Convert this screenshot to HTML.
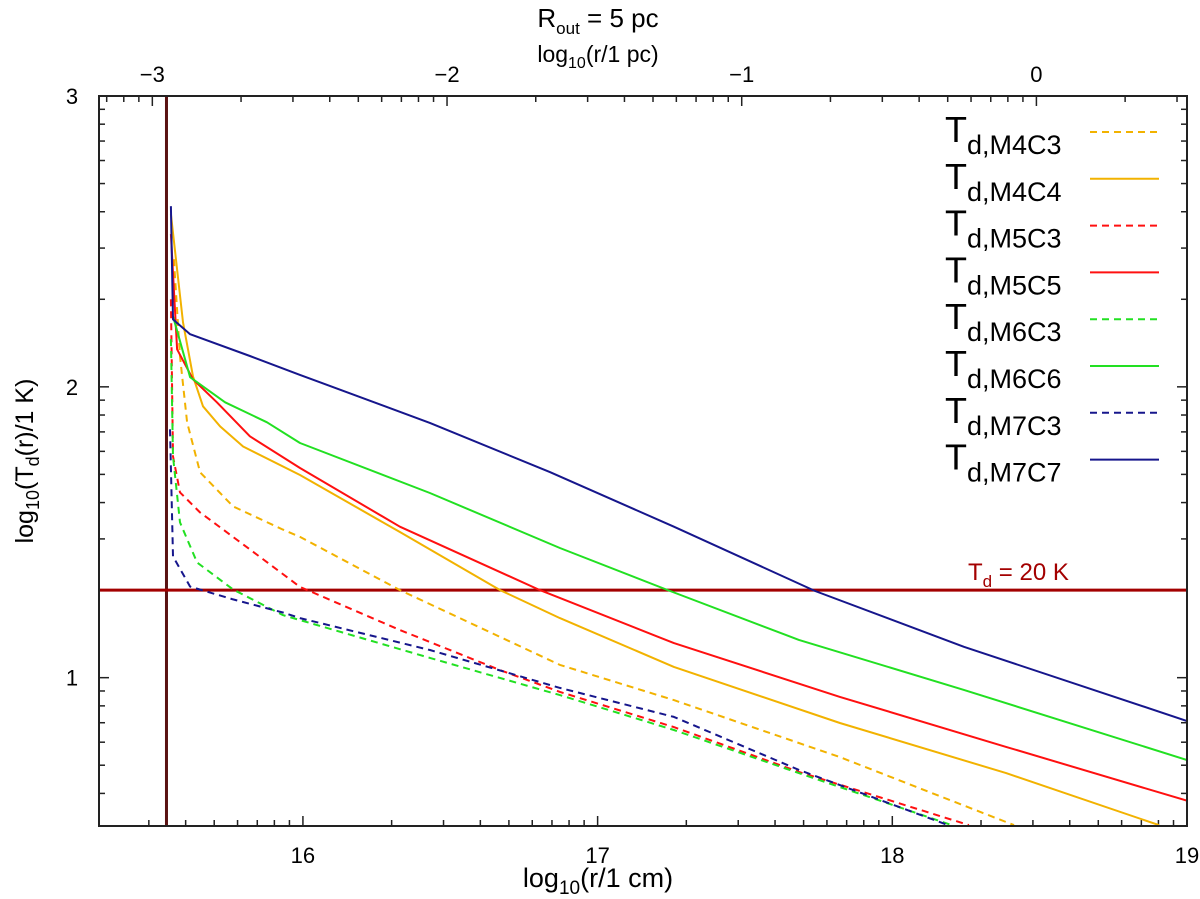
<!DOCTYPE html>
<html><head><meta charset="utf-8"><style>
body{margin:0;background:#fff;width:1200px;height:894px;overflow:hidden}
svg text{font-family:"Liberation Sans",sans-serif;fill:#000}
</style></head><body>
<svg id="chart" width="1200" height="894"></svg>
<script>
const seriesNames=["M4C3","M4C4","M5C3","M5C5","M6C3","M6C6","M7C3","M7C7"];
const seriesColors=["#f2b200","#f2b200","#ff1010","#ff1010","#22e022","#22e022","#16168c","#16168c"];
const seriesDashed=[true,false,true,false,true,false,true,false];
const xM4C3=[15.562,15.583,15.607,15.651,15.763,15.932,15.99,16.329,16.872,17.259,17.822,18.413];
const yM4C3=[2.439,2.105,1.878,1.706,1.589,1.509,1.484,1.301,1.044,0.923,0.727,0.493];
const xM4C4=[15.552,15.593,15.627,15.661,15.719,15.797,15.99,16.329,16.669,16.872,17.259,17.822,18.386,18.905];
const yM4C4=[2.594,2.222,2.036,1.933,1.864,1.795,1.697,1.501,1.301,1.205,1.037,0.844,0.672,0.493];
const xM5C3=[15.552,15.559,15.583,15.651,15.820,15.99,16.329,16.669,16.872,17.259,17.683,18.26];
const yM5C3=[2.301,1.761,1.637,1.568,1.441,1.312,1.164,1.026,0.951,0.830,0.676,0.493];
const xM5C5=[15.552,15.573,15.627,15.708,15.820,15.99,16.329,16.804,17.259,17.822,18.386,19.0];
const yM5C5=[2.525,2.129,2.026,1.947,1.830,1.721,1.519,1.301,1.119,0.934,0.762,0.577];
const xM6C3=[15.552,15.559,15.583,15.641,15.763,15.932,15.99,16.431,16.872,17.259,17.683,18.202];
const yM6C3=[2.164,1.761,1.534,1.396,1.303,1.215,1.198,1.068,0.940,0.820,0.672,0.493];
const xM6C6=[15.559,15.617,15.736,15.878,15.99,16.431,16.872,17.246,17.683,18.243,19.0];
const yM6C6=[2.243,2.033,1.947,1.878,1.807,1.635,1.446,1.298,1.130,0.958,0.717];
const xM7C3=[15.549,15.559,15.617,15.763,15.932,15.99,16.431,16.872,17.259,17.683,18.189];
const yM7C3=[1.854,1.417,1.313,1.269,1.224,1.205,1.095,0.965,0.865,0.683,0.493];
const xM7C7=[15.552,15.559,15.617,15.820,15.99,16.431,16.838,17.259,17.738,18.243,19.0];
const yM7C7=[2.621,2.232,2.181,2.106,2.041,1.876,1.707,1.519,1.298,1.106,0.851];
const seriesX=[xM4C3,xM4C4,xM5C3,xM5C5,xM6C3,xM6C6,xM7C3,xM7C7];
const seriesY=[yM4C3,yM4C4,yM5C3,yM5C5,yM6C3,yM6C6,yM7C3,yM7C7];
const xTicks=[16,17,18,19];
const yTicks=[1,2,3];
const topTicks=[-3,-2,-1,0];
const innerRadius=15.537;
const tempLine=Math.log10(20);
const pcOffset=18.489;

const L=99,R=1187,T=96,B=826,X0=15.308,X1=19.0,Y0=0.49,Y1=3.0;
const sx=v=>L+(v-X0)/(X1-X0)*(R-L);
const sy=v=>B-(v-Y0)/(Y1-Y0)*(B-T);
const svg=document.getElementById('chart');
const NS='http://www.w3.org/2000/svg';
function mk(tag,attrs,parent){const e=document.createElementNS(NS,tag);for(const k in attrs)e.setAttribute(k,attrs[k]);(parent||svg).appendChild(e);return e;}
function txt(x,y,s,size,anchor,parent){const t=mk('text',{x:x,y:y,'font-size':size,'text-anchor':anchor||'middle'},parent);t.innerHTML=s;return t;}

const defs=mk('defs',{});const cp=mk('clipPath',{id:'pc'},defs);mk('rect',{x:L,y:T,width:R-L,height:B-T},cp);

const tg=mk('g',{stroke:'#222','stroke-width':1.5});

for(let d=15;d<=19;d++){for(let k=1;k<=9;k++){const v=d+Math.log10(k);if(v<X0-1e-6||v>X1+1e-6)continue;const x=sx(v);const len=k==1?10:6;
 mk('line',{x1:x,y1:B,x2:x,y2:B-len},tg);}}
for(let d=-4;d<=1;d++){for(let k=1;k<=9;k++){const v=d+Math.log10(k)+pcOffset;if(v<X0||v>X1)continue;const x=sx(v);const len=k==1?10:6;
 mk('line',{x1:x,y1:T,x2:x,y2:T+len},tg);}}
for(let d=0;d<=3;d++){for(let k=1;k<=9;k++){const v=d+Math.log10(k);if(v<Y0-1e-6||v>Y1+1e-6)continue;const y=sy(v);const len=k==1?10:6;
 mk('line',{x1:L,y1:y,x2:L+len,y2:y},tg);mk('line',{x1:R,y1:y,x2:R-len,y2:y},tg);}}

const vl=mk('line',{x1:sx(innerRadius),y1:T,x2:sx(innerRadius),y2:B,stroke:'#5a1212','stroke-width':3});

const hl=mk('line',{x1:L,y1:sy(tempLine),x2:R,y2:sy(tempLine),stroke:'#a30000','stroke-width':3});


for(let i=0;i<seriesNames.length;i++){
 const d=seriesX[i].map((x,j)=>(j?'L':'M')+sx(x).toFixed(1)+','+sy(seriesY[i][j]).toFixed(1)).join('');
 const p=mk('path',{d:d,fill:'none',stroke:seriesColors[i],'stroke-width':2,'stroke-linejoin':'round','clip-path':'url(#pc)','stroke-dasharray':seriesDashed[i]?'7,5':'none'});
 
 
}

const fr=mk('rect',{x:L,y:T,width:R-L,height:B-T,fill:'none',stroke:'#222','stroke-width':2});


xTicks.forEach(v=>{const t=txt(sx(v),863,String(v),22);});
topTicks.forEach(v=>{const t=txt(sx(v+pcOffset),82,v<0?'\u2212'+(-v):String(v),22);});
yTicks.forEach(v=>{const t=txt(72,sy(v)+8,String(v),22);});

let t;
t=txt(598,27,'R<tspan font-size="17" dy="7">out</tspan><tspan dy="-7"> = 5 pc</tspan>',26);

t=txt(598,62,'log<tspan font-size="16" dy="6">10</tspan><tspan dy="-6">(r/1 pc)</tspan>',23);

t=txt(598,887,'log<tspan font-size="19" dy="7">10</tspan><tspan dy="-7">(r/1 cm)</tspan>',27);

t=txt(0,0,'log<tspan font-size="18" dy="6">10</tspan><tspan dy="-6">(T</tspan><tspan font-size="18" dy="6">d</tspan><tspan dy="-6">(r)/1 K)</tspan>',25);
t.setAttribute('transform','translate(33,461) rotate(-90)');

t=txt(968,580,'T<tspan font-size="17" dy="7">d</tspan><tspan dy="-7"> = 20 K</tspan>',24,'start');
t.setAttribute('style','fill:#a30000');


const lg=mk('g',{});
for(let i=0;i<seriesNames.length;i++){
 const y=132+i*46.8;
 const e=txt(945,y+10,'T<tspan font-size="27" dy="12">d,'+seriesNames[i]+'</tspan>',36,'start',lg);
 
 const l=mk('line',{x1:1090,y1:y,x2:1159,y2:y,stroke:seriesColors[i],'stroke-width':2,'stroke-dasharray':seriesDashed[i]?'7,5':'none'},lg);
 
}
</script>
</body></html>
